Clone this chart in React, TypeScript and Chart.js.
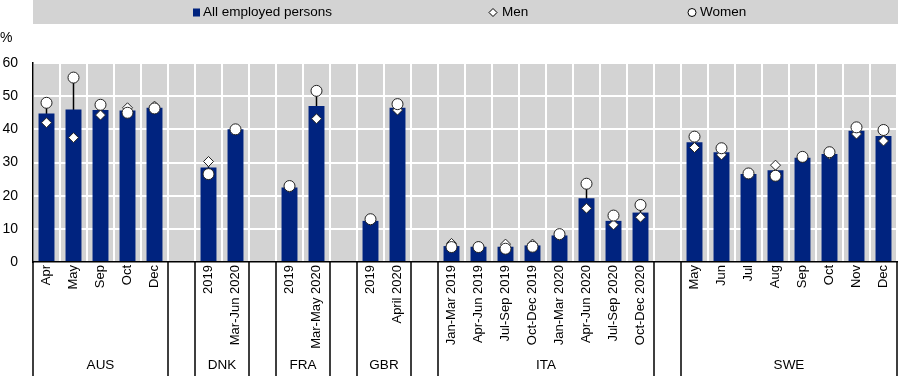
import { useEffect, useRef } from "react";
import { Chart, registerables } from "chart.js";

Chart.register(...registerables);

// ---- Data ----
const groupNames = ["AUS", "DNK", "FRA", "GBR", "ITA", "SWE"];
const groupSizes = [5, 2, 2, 2, 8, 8];

// "" = spacer slot between countries
const categories = [
  "Apr", "May", "Sep", "Oct", "Dec", "",
  "2019", "Mar-Jun 2020", "",
  "2019", "Mar-May 2020", "",
  "2019", "April 2020", "",
  "Jan-Mar 2019", "Apr-Jun 2019", "Jul-Sep 2019", "Oct-Dec 2019",
  "Jan-Mar 2020", "Apr-Jun 2020", "Jul-Sep 2020", "Oct-Dec 2020", "",
  "May", "Jun", "Jul", "Aug", "Sep", "Oct", "Nov", "Dec",
];

const allEmployed = [
  44.8, 46.0, 45.8, 45.7, 46.5, null,
  28.5, 40.0, null,
  22.5, 47.0, null,
  12.4, 46.5, null,
  4.8, 4.6, 4.6, 5.0, 8.0, 19.2, 12.4, 14.9, null,
  36.1, 33.1, 26.5, 27.7, 31.4, 32.6, 39.6, 38.0,
];

const men = [
  42.0, 37.5, 44.3, 46.5, 47.0, null,
  30.3, 40.0, null,
  22.5, 43.2, null,
  12.5, 45.8, null,
  5.6, 4.8, 5.4, 5.4, 8.0, 16.2, 11.2, 13.5, null,
  34.5, 32.3, 26.5, 29.2, 31.4, 32.5, 38.6, 36.5,
];

const women = [
  48.0, 55.6, 47.4, 45.0, 46.3, null,
  26.5, 40.0, null,
  22.9, 51.6, null,
  12.9, 47.6, null,
  4.5, 4.5, 4.0, 4.6, 8.4, 23.6, 14.0, 17.2, null,
  37.8, 34.3, 26.7, 26.0, 31.7, 33.1, 40.6, 39.8,
];

const yTicks = [0, 10, 20, 30, 40, 50, 60];

const legendLabels = ["All employed persons", "Men", "Women"];

// ---- Styles ----
const NAVY = "#00237f";
const GRAY = "#d3d3d3";
const FONT = "'Liberation Sans', Arial, sans-serif";

const gapRange = men.map((m, i) => {
  const w = women[i];
  if (m === null || w === null) return null;
  return [Math.min(m, w as number), Math.max(m, w as number)];
});

const decorPlugin = {
  id: "decor",
  beforeDraw(chart: any) {
    const { ctx, chartArea } = chart;
    ctx.save();
    ctx.fillStyle = GRAY;
    ctx.fillRect(chartArea.left, chartArea.top, chartArea.right - chartArea.left, chartArea.bottom - chartArea.top);
    // legend band
    ctx.fillRect(chartArea.left, 0, chart.width - chartArea.left, 24);
    ctx.restore();
  },
  afterDraw(chart: any) {
    const { ctx, chartArea } = chart;
    const xs = chart.scales.x;
    ctx.save();
    // "%" label
    ctx.fillStyle = "#000";
    ctx.font = `14px ${FONT}`;
    ctx.textAlign = "left";
    ctx.textBaseline = "middle";
    ctx.fillText("%", 0, 38);

    // legend
    ctx.font = `13.5px ${FONT}`;
    const ly = 12.5;
    ctx.fillStyle = NAVY;
    ctx.fillRect(193, ly - 4, 7, 8);
    ctx.fillStyle = "#000";
    ctx.fillText(legendLabels[0], 203, ly);
    // diamond
    ctx.beginPath();
    ctx.moveTo(493, ly - 4);
    ctx.lineTo(497, ly);
    ctx.lineTo(493, ly + 4);
    ctx.lineTo(489, ly);
    ctx.closePath();
    ctx.fillStyle = "#fff";
    ctx.fill();
    ctx.strokeStyle = "#000";
    ctx.lineWidth = 1;
    ctx.stroke();
    ctx.fillStyle = "#000";
    ctx.fillText(legendLabels[1], 502, ly);
    // circle
    ctx.beginPath();
    ctx.arc(692, ly, 4, 0, Math.PI * 2);
    ctx.fillStyle = "#fff";
    ctx.fill();
    ctx.stroke();
    ctx.fillStyle = "#000";
    ctx.fillText(legendLabels[2], 700, ly);

    // group dividers and labels
    const slot = xs.getPixelForValue(1) - xs.getPixelForValue(0);
    let start = 0;
    ctx.strokeStyle = "#000";
    ctx.lineWidth = 1.5;
    ctx.textAlign = "center";
    ctx.font = `13.5px ${FONT}`;
    groupNames.forEach((name, g) => {
      const end = start + groupSizes[g] - 1;
      const x0 = xs.getPixelForValue(start) - slot / 2;
      const x1 = xs.getPixelForValue(end) + slot / 2;
      ctx.beginPath();
      ctx.moveTo(x0, chartArea.bottom);
      ctx.lineTo(x0, chart.height);
      ctx.moveTo(x1, chartArea.bottom);
      ctx.lineTo(x1, chart.height);
      ctx.stroke();
      ctx.fillText(name, (x0 + x1) / 2, chart.height - 11);
      start = end + 2;
    });
    ctx.restore();
  },
};

const zeroPadding = () => ({ left: 0, top: 0, right: 0, bottom: 0 });

export default function App() {
  const ref = useRef<HTMLCanvasElement | null>(null);

  useEffect(() => {
    if (!ref.current) return;
    const chart = new Chart(ref.current, {
      type: "bar",
      data: {
        labels: categories,
        datasets: [
          {
            type: "line",
            label: legendLabels[2],
            data: women,
            showLine: false,
            pointStyle: "circle",
            pointRadius: 5.5,
            pointBackgroundColor: "#fff",
            pointBorderColor: "#222",
            pointBorderWidth: 1,
            order: 1,
          } as any,
          {
            type: "line",
            label: legendLabels[1],
            data: men,
            showLine: false,
            pointStyle: "rectRot",
            pointRadius: 5,
            pointBackgroundColor: "#fff",
            pointBorderColor: "#222",
            pointBorderWidth: 1,
            order: 2,
          } as any,
          {
            type: "bar",
            label: legendLabels[0],
            data: allEmployed,
            backgroundColor: NAVY,
            barPercentage: 0.59,
            categoryPercentage: 1,
            order: 3,
          } as any,
          {
            type: "bar",
            label: "range",
            data: gapRange,
            backgroundColor: "#000",
            grouped: false,
            maxBarThickness: 1.5,
            order: 4,
          } as any,
        ],
      },
      options: {
        responsive: false,
        animation: false,
        layout: { autoPadding: false, padding: { top: 63, left: 0, right: 1, bottom: 0 } },
        plugins: {
          legend: { display: false },
          tooltip: { enabled: false },
        },
        scales: {
          x: {
            offset: true,
            grid: {
              offset: true,
              color: "#fff",
              lineWidth: 2,
              drawTicks: false,
            },
            border: { color: "#000", width: 1.5 },
            ticks: {
              autoSkip: false,
              minRotation: 90,
              maxRotation: 90,
              padding: 3,
              color: "#000",
              font: { family: FONT, size: 13 },
            },
            afterFit(scale: any) {
              scale.height = 114;
              scale.paddingLeft = 0;
              scale.paddingRight = 0;
              scale.getPadding = zeroPadding;
            },
          },
          y: {
            min: 0,
            max: 60,
            stacked: false,
            afterBuildTicks(scale: any) {
              scale.ticks = yTicks.map((v) => ({ value: v }));
            },
            grid: {
              color: "#fff",
              lineWidth: 2,
              drawTicks: false,
            },
            border: { color: "#000", width: 1.5 },
            ticks: {
              padding: 15,
              color: "#000",
              font: { family: FONT, size: 14 },
            },
            afterFit(scale: any) {
              scale.width = 33;
            },
          },
        },
      },
      plugins: [decorPlugin],
    } as any);
    return () => chart.destroy();
  }, []);

  return (
    <div style={{ position: "absolute", left: 0, top: 0, width: 898, height: 376 }}>
      <canvas ref={ref} width={898} height={376} style={{ display: "block" }} />
    </div>
  );
}
